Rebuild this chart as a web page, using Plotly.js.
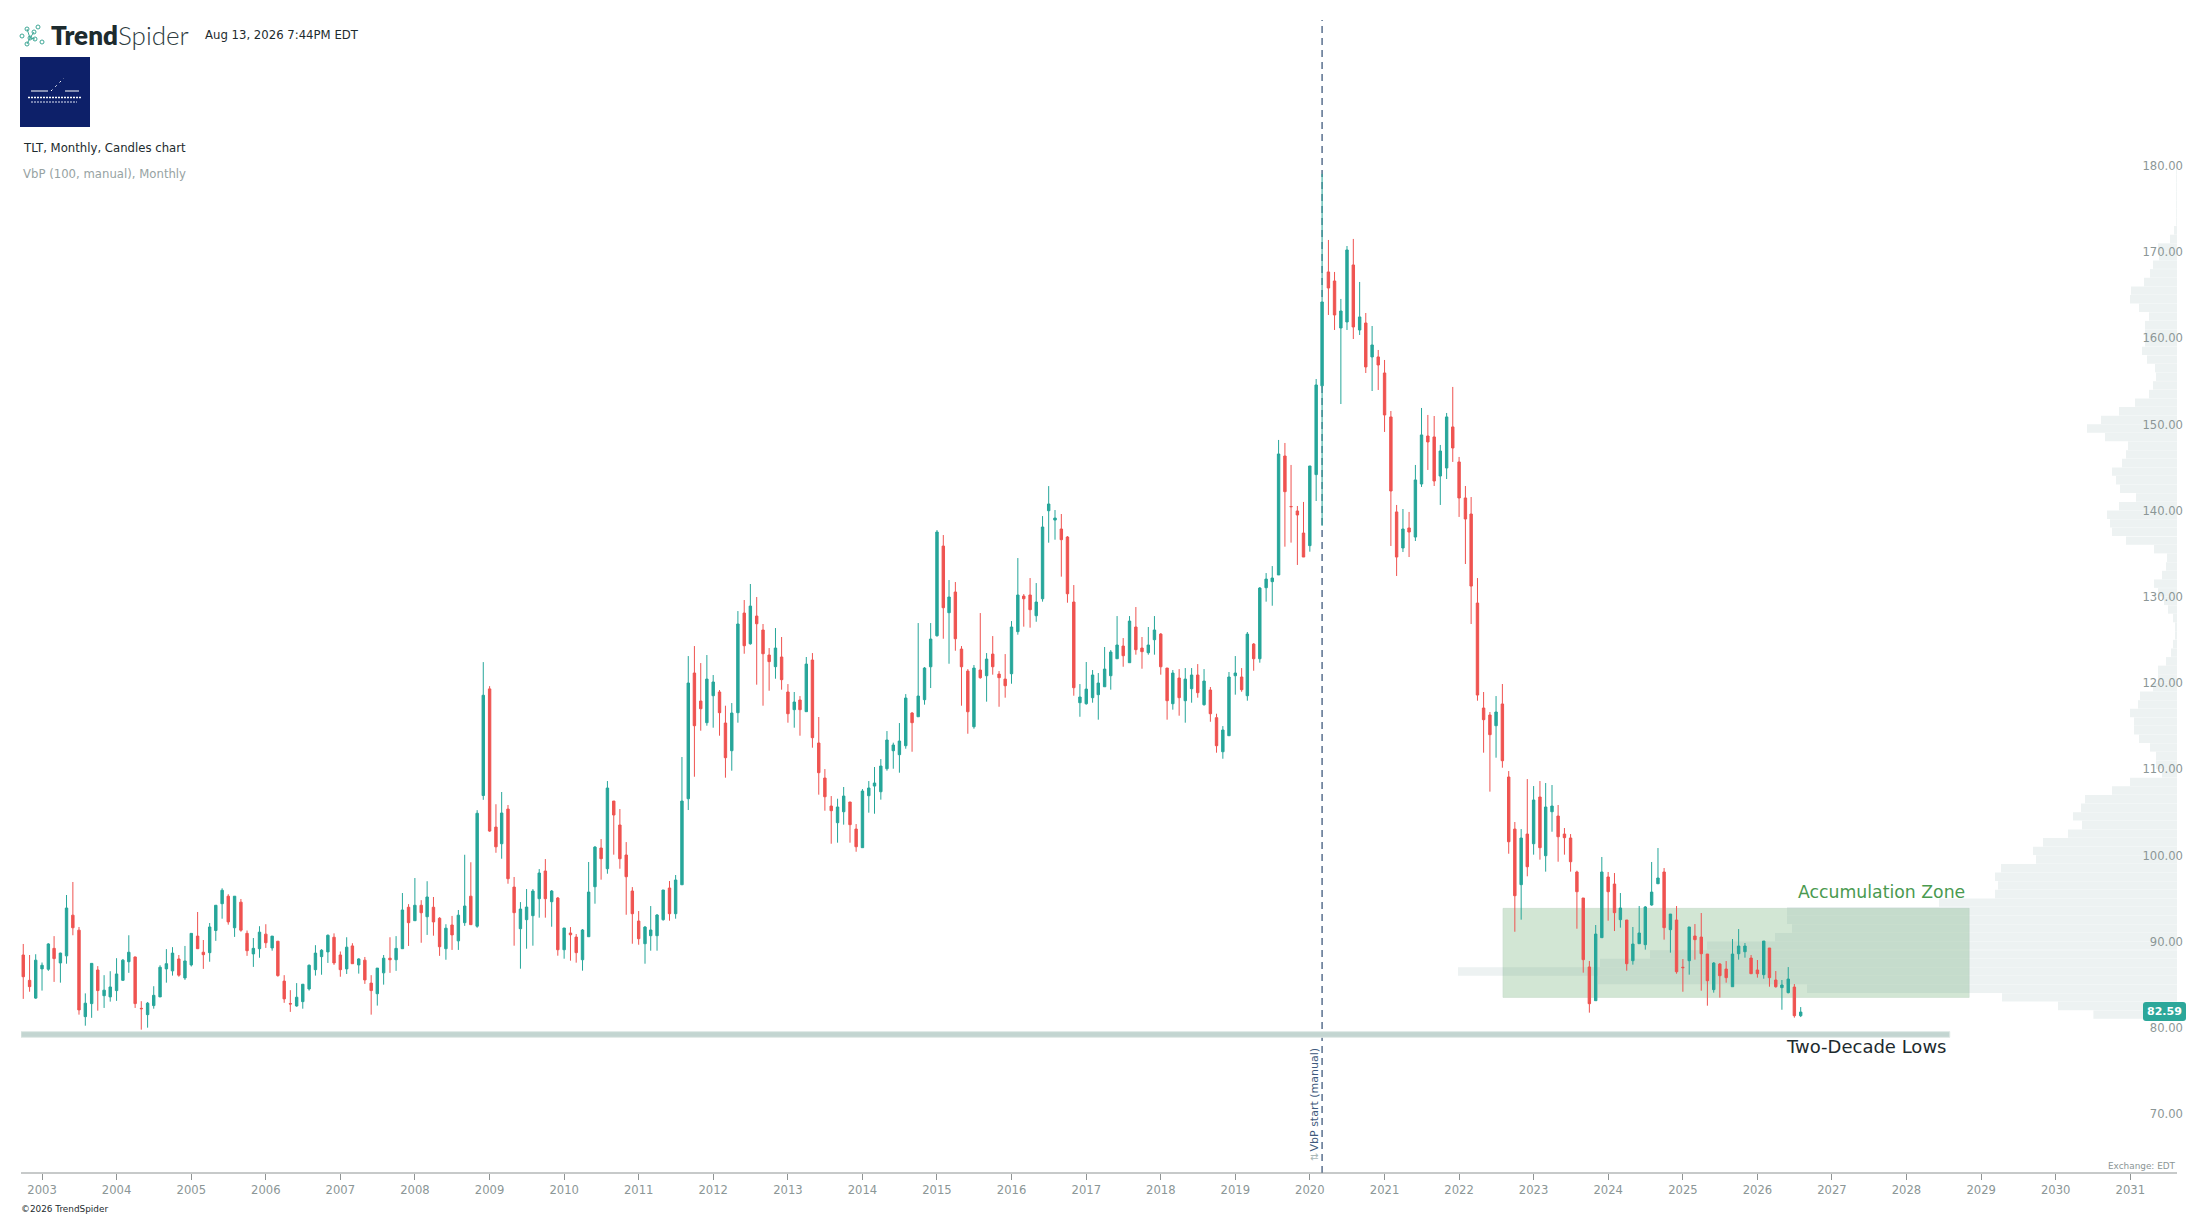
<!DOCTYPE html>
<html><head><meta charset="utf-8">
<script src="https://cdn.plot.ly/plotly-3.0.1.min.js"></script>
<style>html,body{margin:0;padding:0;background:#fff}#c{width:2207px;height:1219px}</style>
</head><body><div id="c"></div>
<script>
const firstYear = 2002, firstMonth = 10, candleCount = 287;
const opens = [
88.47,85.53,83.47,
86.86,86.82,89.24,87.55,88.37,93.09,91.35,81.32,82.83,86.73,83.75,83.61,
84.34,85.53,87.69,88.24,82.28,81.55,82.60,83.61,86.86,86.63,88.01,85.81,
87.32,90.66,88.79,88.74,91.31,94.42,95.29,91.63,94.60,90.98,88.60,89.20,
90.89,89.29,90.07,85.44,82.83,82.56,83.06,84.53,86.77,88.28,88.83,90.53,
88.47,86.86,89.52,87.32,87.87,85.21,83.98,86.40,88.10,87.92,89.20,94.01,
92.45,94.24,92.91,94.01,92.73,89.20,91.95,90.11,92.22,95.29,91.81,106.97,
119.34,103.31,101.38,105.40,96.35,91.52,92.57,93.03,95.00,98.21,94.65,95.08,
89.08,91.02,90.55,87.92,90.59,96.39,100.88,98.48,106.33,103.55,100.07,95.89,
92.41,89.78,90.71,90.71,92.57,96.24,93.26,96.62,106.60,121.18,117.93,115.42,
118.55,118.98,115.38,112.17,116.58,128.14,124.58,127.79,126.17,123.27,121.92,123.04,
118.98,116.93,118.05,116.70,122.69,113.06,109.00,105.75,103.82,105.09,106.22,103.08,
100.92,106.95,108.07,107.41,110.08,112.17,111.71,112.75,116.54,116.11,118.09,121.91,
125.51,135.91,128.18,130.58,123.96,121.41,114.95,121.53,120.87,123.38,121.06,120.48,
121.10,125.98,130.11,130.23,127.83,129.80,140.01,138.93,137.89,136.96,129.42,117.74,
117.62,118.32,118.67,119.59,120.87,122.84,124.31,122.38,126.52,124.08,123.54,125.05,
125.70,121.76,117.62,120.60,117.97,119.36,120.95,117.51,119.21,116.00,112.05,113.91,
120.87,120.72,118.55,124.54,122.84,131.08,131.78,132.56,146.36,140.50,139.98,137.42,
135.96,144.20,154.50,167.71,166.66,161.21,161.91,168.52,160.98,161.79,157.85,157.85,
155.99,150.89,139.87,135.69,138.01,136.96,143.11,148.68,148.57,144.04,144.97,149.73,
145.67,141.49,139.63,129.30,117.12,116.31,115.07,117.59,109.12,103.08,96.63,102.50,
101.38,106.80,99.99,105.09,104.59,102.50,102.04,98.10,95.08,87.08,83.17,90.48,
97.52,96.70,92.57,92.53,87.81,89.78,89.67,94.27,96.74,98.10,91.41,92.53,
87.05,87.81,90.67,90.55,88.58,84.45,87.42,86.84,84.79,88.62,88.85,88.12,
86.73,86.19,89.28,85.57,84.68,84.10,84.75,81.43];
const highs = [
89.75,88.47,88.56,
87.60,89.84,90.66,88.74,95.43,96.94,91.72,84.02,87.50,87.18,86.13,86.59,
88.10,88.01,90.76,88.28,83.11,83.02,84.85,87.28,89.15,89.38,88.47,89.52,
90.98,93.46,90.21,92.18,94.24,96.21,95.52,95.29,94.97,91.31,90.44,91.81,
92.04,90.66,90.07,86.13,84.39,85.21,85.08,87.37,89.61,89.15,90.85,90.98,
88.88,90.53,89.84,88.10,88.24,86.13,86.95,88.47,90.53,90.66,95.66,94.37,
97.40,94.83,97.03,95.20,92.86,92.04,93.00,93.69,100.10,99.23,105.27,122.45,
119.66,105.96,107.38,105.87,97.52,94.61,96.12,96.12,98.44,99.60,96.01,95.20,
91.60,91.71,90.90,91.48,99.26,101.11,101.92,108.65,106.33,105.40,101.57,96.35,
93.57,91.83,94.15,93.22,96.01,97.05,97.75,111.44,123.15,124.31,122.34,123.27,
120.95,119.21,117.39,117.70,128.37,129.65,131.51,130.00,126.87,124.08,126.40,125.36,
119.90,118.98,118.51,123.04,123.50,116.08,110.04,106.91,106.60,107.96,106.22,103.66,
107.72,108.65,110.28,111.20,114.45,113.10,115.38,118.74,116.66,126.98,121.88,126.98,
137.77,137.19,131.97,131.74,124.31,121.64,122.11,128.14,123.50,125.47,121.41,123.38,
127.21,134.52,130.34,132.20,131.62,139.39,142.87,140.09,139.63,137.07,131.39,119.90,
122.46,121.53,121.18,124.20,123.85,127.79,125.24,127.79,128.84,125.36,126.52,127.79,
125.82,121.76,121.53,121.64,121.76,121.76,122.22,121.64,119.56,116.46,115.03,121.30,
123.15,121.76,125.94,124.66,131.16,132.78,133.59,148.22,147.87,145.32,140.56,141.03,
145.20,155.29,179.08,171.42,167.71,164.58,170.72,171.54,166.55,162.95,161.44,158.66,
157.50,151.58,140.68,140.21,139.87,145.32,151.93,151.12,151.00,147.64,151.35,154.37,
146.25,142.88,141.60,132.20,118.98,116.66,118.51,119.91,109.81,103.90,103.08,108.88,
108.07,108.65,108.42,108.19,105.87,103.20,102.50,98.25,95.08,87.77,91.95,99.84,
98.10,97.98,95.66,92.53,91.72,94.15,94.15,99.26,100.88,98.56,93.22,94.15,
88.00,91.72,92.06,93.34,88.58,87.65,87.54,87.77,90.32,91.48,89.86,88.47,
87.89,90.09,89.28,86.61,85.57,87.07,85.10,82.43];
const lows = [
83.38,84.21,83.38,
84.34,86.63,85.35,85.26,87.46,90.76,81.55,80.27,81.18,82.01,82.33,83.06,
83.15,85.49,86.40,82.33,79.81,80.04,82.24,83.61,85.26,86.08,85.95,85.58,
87.14,89.20,86.86,87.69,90.11,92.68,91.99,90.57,91.17,88.37,87.09,88.15,
89.29,88.97,85.95,82.92,81.87,82.47,82.24,84.34,86.08,86.18,87.55,87.32,
85.95,86.27,87.46,86.31,85.12,81.55,82.60,85.03,86.40,86.63,89.20,89.52,
92.45,89.89,90.80,90.71,88.37,87.92,89.06,89.06,91.85,91.99,91.63,106.47,
102.76,100.33,99.64,96.74,89.55,86.88,89.20,89.55,92.80,92.80,91.75,88.39,
88.04,87.81,87.58,86.65,90.59,94.42,97.21,97.90,100.11,98.48,93.14,89.78,
89.66,87.46,88.97,88.97,92.45,92.45,92.68,96.62,105.29,109.15,114.49,115.07,
114.84,113.91,109.04,109.85,115.42,123.42,124.47,119.83,117.39,119.13,120.52,119.25,
115.42,114.84,113.91,116.70,112.52,107.07,105.21,101.38,101.50,103.59,101.50,100.45,
100.92,104.98,104.86,106.49,109.85,110.08,109.62,112.40,112.05,116.11,117.51,119.44,
125.40,125.16,122.26,123.77,117.39,114.14,114.72,120.52,117.86,120.99,117.27,118.32,
119.94,125.63,126.56,126.44,127.13,129.46,136.30,136.65,132.36,129.34,118.55,116.11,
117.51,117.74,115.77,119.59,119.25,122.84,121.91,122.38,123.31,121.68,123.31,123.31,
120.99,115.77,116.93,116.23,115.42,117.74,118.32,117.39,115.53,111.94,111.24,113.91,
118.67,119.01,117.97,121.45,122.38,129.46,128.99,132.56,135.84,136.31,133.72,134.64,
135.26,141.14,138.24,162.72,160.98,152.39,160.98,159.93,160.40,155.99,153.90,154.02,
149.15,135.92,132.44,135.22,134.64,136.50,142.77,144.74,142.88,140.68,143.69,145.67,
139.29,133.83,126.87,117.97,111.94,107.42,111.36,110.20,100.22,91.17,92.57,97.60,
100.11,99.53,98.14,102.77,99.29,100.11,98.14,91.52,86.42,81.78,83.17,90.48,
92.45,91.25,91.64,86.65,87.35,89.78,89.09,94.19,96.70,90.25,88.74,86.30,
84.21,86.19,87.93,84.33,82.59,84.10,83.52,85.26,84.79,87.93,88.16,86.30,
85.84,85.72,84.79,84.68,82.12,84.02,81.20,81.27];
const closes = [
85.95,84.80,87.87,
87.28,89.75,88.05,88.69,93.92,91.63,82.10,82.88,87.50,84.34,84.39,84.76,
86.27,87.87,88.79,82.83,82.24,82.88,83.79,87.05,87.46,88.69,86.13,87.78,
90.98,89.20,88.51,91.72,94.24,95.98,92.31,95.29,91.35,88.97,89.24,91.12,
89.89,90.66,86.08,83.38,82.79,83.57,85.08,87.28,88.69,89.02,90.76,87.55,
86.77,89.38,87.46,88.01,85.58,84.34,86.95,88.10,87.92,89.24,93.69,92.22,
94.24,93.37,95.20,92.31,89.43,91.58,90.80,93.09,94.15,91.99,104.91,118.60,
102.85,101.02,104.94,97.32,93.38,93.80,94.03,95.89,97.98,95.00,95.89,89.08,
91.60,90.82,88.74,91.37,95.77,100.99,99.64,107.84,104.71,99.64,97.55,93.26,
90.36,91.71,91.37,93.11,96.01,93.26,97.17,106.33,120.02,115.07,117.04,120.48,
120.14,116.58,111.36,116.54,126.87,124.35,128.95,126.90,123.42,122.50,124.08,120.41,
116.46,117.82,116.93,122.22,113.68,109.62,106.83,105.21,105.64,106.91,103.59,101.03,
107.49,107.84,108.42,110.39,113.41,112.83,113.29,118.28,115.42,118.51,121.76,125.12,
137.54,128.76,130.00,125.16,121.91,116.69,121.76,120.64,122.80,121.91,120.64,119.71,
126.52,130.23,129.80,128.53,129.42,138.12,140.79,139.16,136.65,130.38,119.48,118.40,
119.32,120.95,120.02,121.64,123.62,124.43,123.19,127.21,123.89,123.66,124.43,126.17,
121.91,117.97,121.18,118.32,120.48,120.95,118.90,120.25,116.46,112.75,114.57,120.72,
121.18,119.25,125.70,122.84,131.04,132.08,132.20,146.59,142.22,140.48,139.52,134.64,
145.20,154.60,164.23,165.85,162.72,163.18,170.26,161.33,162.49,156.69,159.24,156.92,
151.12,142.30,134.64,137.89,137.54,143.58,148.80,147.99,143.46,146.94,150.89,147.29,
141.49,139.05,131.27,118.63,115.77,114.03,116.66,111.01,101.61,95.35,102.04,98.71,
106.45,100.92,105.64,105.75,102.19,102.08,99.29,95.81,87.93,82.82,90.90,98.10,
95.81,93.38,93.92,87.46,89.74,91.02,94.04,95.77,97.40,91.64,93.22,86.53,
87.00,91.72,90.25,88.62,85.49,87.54,86.07,85.84,88.58,89.51,89.51,86.30,
86.30,90.09,85.84,84.79,84.99,85.68,81.43,81.85];
// Volume-by-price rows, lowest price first; first row spans 81.05 to 82.05
const vbpFloor = 81.05, vbpRowHeight = 1;
const vbpVolume = [
83.6,119,175,370,579,719,577,527,470,402,385,390,390,238,182,179,182,176,141,144,134,
109,95,104,96,92,65,47,15,21,21,27,38,43,43,47,39,37,24,19,19,11,6,4,2,2,4,9,13,19,23,15,11,10,23,
51,65,67,70,58,41,57,61,65,55,51,49,72,90,76,58,42,28,24,21,22,30,35,32,32,32,28,38,47,46,33,27,24,18,19,7,3,
0.8,0.8,0.8,0.8,0.8,0.8,0.8];
const yTicks = [70,80,90,100,110,120,130,140,150,160,170,180];
const zoneLow = 83.55, zoneHigh = 93.88, zoneStart = '2022-08-04', zoneEnd = '2028-11-03';
const lowsLevel = 79.25, lowsEnd = '2028-07-31';
const vbpStart = '2020-03-01';
const lastPriceText = '82.59';

const pad = n => String(n).padStart(2,'0');
const dates = [];
for (let i = 0; i < candleCount; i++) {
  const m = firstMonth - 1 + i;
  dates.push((firstYear + Math.floor(m/12)) + '-' + pad(m%12+1) + '-01');
}
const vbpRows = vbpVolume.map((_, k) => vbpFloor + vbpRowHeight*(k+0.5));

// plot area in page pixels
const L = 21, R = 2186, T = 20, B = 1173, W = 2207, H = 1219;
const px = x => (x-L)/(R-L);
const py = y => 1-(y-T)/(B-T);
const GREEN = '#26a69a', RED = '#ef5350', GREY = '#8b9696', INK = '#1d2b2e';

const note = (x,y,text,size,color,anchor,extra) => Object.assign({
  xref:'paper', yref:'paper', x:px(x), y:py(y), text:text, showarrow:false,
  xanchor:anchor||'left', yanchor:'middle', borderpad:0,
  font:{family:'DejaVu Sans',size:size,color:color}
}, extra||{});

const roundedBox = (x0,y0,x1,y1,r) => {
  const a = px(x0), b = px(x1), c = py(y0), d = py(y1), rx = r/(R-L), ry = r/(B-T);
  return 'M '+(a+rx)+' '+c+' L '+(b-rx)+' '+c+' Q '+b+' '+c+' '+b+' '+(c-ry)+' L '+b+' '+(d+ry)+
         ' Q '+b+' '+d+' '+(b-rx)+' '+d+' L '+(a+rx)+' '+d+' Q '+a+' '+d+' '+a+' '+(d+ry)+
         ' L '+a+' '+(c-ry)+' Q '+a+' '+c+' '+(a+rx)+' '+c+' Z';
};

const shapes = [
  {type:'rect',xref:'x2',yref:'y',x0:zoneStart,x1:zoneEnd,y0:zoneLow,y1:zoneHigh,layer:'below',
   fillcolor:'rgba(165,205,170,0.5)',line:{width:1,color:'rgba(200,220,205,0.6)'}},
  {type:'rect',xref:'x2',yref:'y',x0:'2002-09-20',x1:lowsEnd,y0:lowsLevel-0.33,y1:lowsLevel+0.33,layer:'below',
   fillcolor:'#c3d5d1',line:{width:1,color:'#dfe9e6'}},
  {type:'line',xref:'x2',yref:'paper',x0:vbpStart,x1:vbpStart,y0:0,y1:1,layer:'below',
   line:{color:'#3f5a7d',width:1.3,dash:'7px,5px'}},
  {type:'line',xref:'paper',yref:'paper',x0:0,x1:px(2177),y0:0,y1:0,line:{color:'#8f9494',width:1}},
  {type:'rect',xref:'paper',yref:'paper',x0:px(20),x1:px(90),y0:py(57),y1:py(127),fillcolor:'#0d2069',line:{width:0}},
  {type:'line',xref:'paper',yref:'paper',x0:px(31),x1:px(48),y0:py(91),y1:py(91),line:{color:'#fff',width:1}},
  {type:'line',xref:'paper',yref:'paper',x0:px(65),x1:px(79),y0:py(91),y1:py(91),line:{color:'#fff',width:1}},
  {type:'line',xref:'paper',yref:'paper',x0:px(51),x1:px(64),y0:py(91),y1:py(78),line:{color:'#fff',width:1,dash:'2px,4px'}},
  {type:'line',xref:'paper',yref:'paper',x0:px(28),x1:px(82),y0:py(97.5),y1:py(97.5),line:{color:'#fff',width:1.5,dash:'2px,1px'}},
  {type:'line',xref:'paper',yref:'paper',x0:px(31),x1:px(77),y0:py(102),y1:py(102),line:{color:'#dfe3f5',width:1,dash:'2px,1px'}},
  {type:'path',xref:'paper',yref:'paper',path:roundedBox(2143,1002,2186,1021,3),fillcolor:'#2ca79a',line:{width:0}}
];

// logo glyph
const logoDots = [[38,27],[34,32],[27,29],[22,36],[30,38],[35,39],[42,42],[27,44]];
logoDots.forEach(d => shapes.push({type:'circle',xref:'paper',yref:'paper',
  x0:px(d[0]-2),x1:px(d[0]+2),y0:py(d[1]+2),y1:py(d[1]-2),line:{color:'#3fa796',width:1},fillcolor:'#fff'}));
[[27,29,30,38],[30,38,27,44],[30,38,34,32],[30,38,35,39]].forEach(s => shapes.push({type:'line',xref:'paper',yref:'paper',
  x0:px(s[0]),x1:px(s[2]),y0:py(s[1]),y1:py(s[3]),line:{color:'#3fa796',width:1}}));

const annotations = [
  note(50,35,'Trend',26,INK,'left',{font:{family:'Lato',size:26,color:INK,weight:800}}),
  note(117,35,'Spider',26,INK,'left',{font:{family:'Lato',size:26,color:'#2d3b3e',weight:300}}),
  note(203.5,35,'Aug 13, 2026 7:44PM EDT',11.7,INK),
  note(21.5,148,'TLT, Monthly, Candles chart',11.7,INK),
  note(21.5,174,'VbP (100, manual), Monthly',11.7,'#97a3a3'),
  note(20,1209,'©2026 TrendSpider',8.9,INK),
  note(2177,1166,'Exchange: EDT',8.9,GREY,'right'),
  note(1797,892,'Accumulation Zone',17.3,'#4a9a50'),
  note(1785,1046,'Two-Decade Lows',18,INK),
  note(1314,1099.5,'VbP start (manual)',11,'#3f5a7d','center',{textangle:-90}),
  note(1314,1157,'⇅',10,'#a9b8b8','center',{textangle:-90}),
  note(2164.5,1011.5,'<b>'+lastPriceText+'</b>',11,'#fff','center')
];

const traces = [
  {type:'bar',orientation:'h',name:'VbP',x:vbpVolume,y:vbpRows,xaxis:'x',yaxis:'y',width:0.97,
   marker:{color:'rgba(110,145,145,0.12)',line:{width:0}},hoverinfo:'skip'},
  {type:'candlestick',name:'TLT',x:dates,open:opens,high:highs,low:lows,close:closes,xaxis:'x2',yaxis:'y',whiskerwidth:0,
   increasing:{line:{color:GREEN,width:1},fillcolor:GREEN},
   decreasing:{line:{color:RED,width:1},fillcolor:RED},hoverinfo:'skip'}
];

const layout = {
  width:W,height:H,margin:{l:L,r:W-R,t:T,b:H-B,pad:0},
  paper_bgcolor:'#fff',plot_bgcolor:'#fff',showlegend:false,dragmode:false,
  boxgap:0.58,boxgroupgap:0,
  font:{family:'DejaVu Sans',size:11.6,color:GREY},
  xaxis:{range:[2156,-9],visible:false,fixedrange:true,rangeslider:{visible:false}},
  xaxis2:{type:'date',overlaying:'x',anchor:'y',side:'bottom',range:['2002-09-20','2031-10-01'],
    tick0:'2003-01-01',dtick:'M12',tickformat:'%Y',ticks:'outside',ticklen:6,tickwidth:1,tickcolor:'#8f9494',
    showgrid:false,zeroline:false,showline:false,rangeslider:{visible:false},fixedrange:true,
    tickfont:{family:'DejaVu Sans',size:11.6,color:GREY}},
  yaxis:{side:'right',range:[63.18,196.94],tickvals:yTicks,tickformat:'.2f',ticklabelposition:'inside',ticks:'',
    showgrid:false,zeroline:false,showline:false,fixedrange:true,tickfont:{family:'DejaVu Sans',size:11.6,color:GREY}},
  shapes:shapes,annotations:annotations
};
Plotly.newPlot('c',traces,layout,{displayModeBar:false,staticPlot:true});
</script></body></html>
